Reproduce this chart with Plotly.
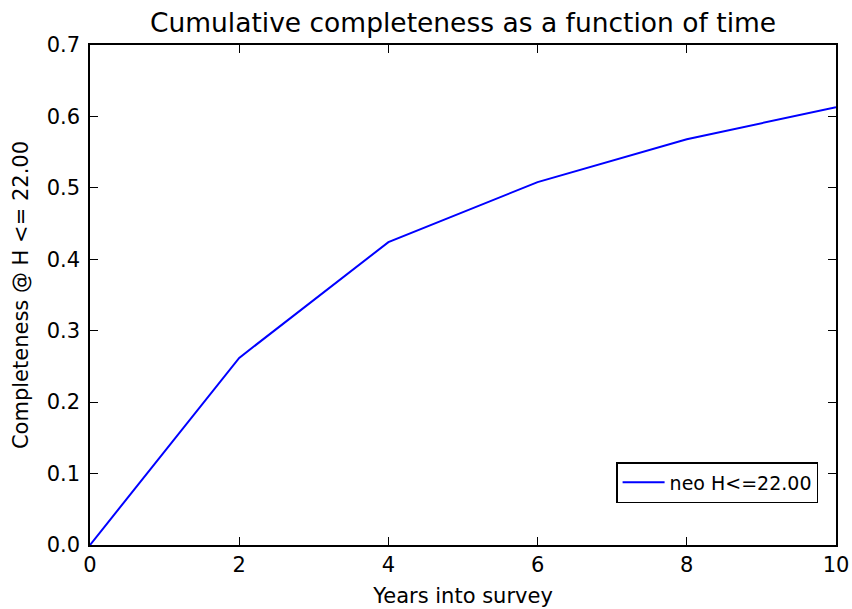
import plotly.graph_objects as go

# Cumulative completeness of the NEO population (H <= 22.00) over survey time
years = [0, 2, 4, 6, 8, 10]
completeness = [0.0, 0.262, 0.424, 0.508, 0.568, 0.613]
series_name = "neo H<=22.00"

fig = go.Figure()
fig.add_trace(go.Scatter(
    x=years, y=completeness, mode="lines", name=series_name,
    line=dict(color="#0000ff", width=2),
))

axis_common = dict(
    showgrid=False, zeroline=False, showline=True, linecolor="black", linewidth=1.5,
    mirror="allticks", ticks="inside", ticklen=8, tickwidth=1, tickcolor="black",
    tickfont=dict(family="DejaVu Sans", size=21, color="black"),
)

fig.update_layout(
    width=852, height=609,
    margin=dict(l=90, r=16, t=45, b=64, autoexpand=False),
    paper_bgcolor="white", plot_bgcolor="white",
    title=dict(text="Cumulative completeness as a function of time",
               xref="paper", x=0.5, xanchor="center",
               yref="container", y=0.978, yanchor="top",
               font=dict(family="DejaVu Sans", size=26.5, color="black")),
    font=dict(family="DejaVu Sans", color="black"),
    xaxis=dict(range=[0, 10], tickvals=[0, 2, 4, 6, 8, 10],
               title=dict(text="Years into survey", standoff=12,
                          font=dict(family="DejaVu Sans", size=21)),
               **axis_common),
    yaxis=dict(range=[0, 0.7], tickvals=[0, 0.1, 0.2, 0.3, 0.4, 0.5, 0.6, 0.7],
               tickformat=".1f", ticklabelstandoff=4,
               title=dict(text="Completeness @ H <= 22.00", standoff=12,
                          font=dict(family="DejaVu Sans", size=21)),
               **axis_common),
    showlegend=True,
    legend=dict(x=0.976, y=0.166, xanchor="right", yanchor="top",
                bgcolor="white", bordercolor="black", borderwidth=1.5,
                itemwidth=42,
                font=dict(family="DejaVu Sans", size=19, color="black")),
)

fig.write_html("out.html")
